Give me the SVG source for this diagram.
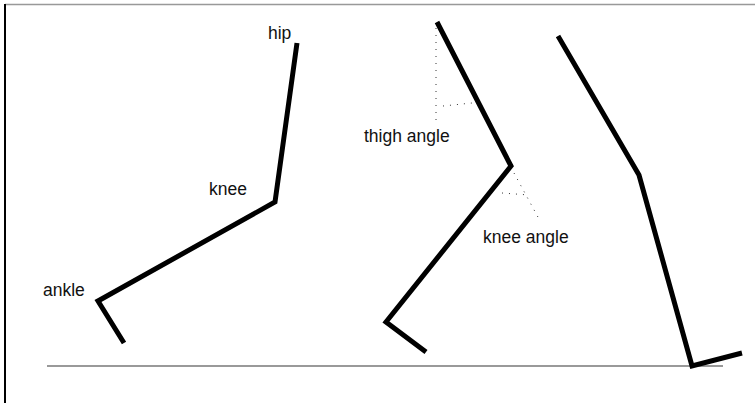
<svg xmlns="http://www.w3.org/2000/svg" width="755" height="403" viewBox="0 0 755 403">
<style>
.leg{fill:none;stroke:#000;stroke-width:5;stroke-linejoin:miter;stroke-linecap:butt}
.dot{fill:none;stroke:#333;stroke-width:1;stroke-dasharray:1 6}
.lbl{font-family:"Liberation Sans",Arial,sans-serif;font-size:17.5px;fill:#111}
</style>
<rect width="755" height="403" fill="#fff"/>
<g id="frame">
<line x1="5" y1="4.5" x2="755" y2="4.5" stroke="#999" stroke-width="1.5"/>
<line x1="5" y1="4" x2="5" y2="403" stroke="#000" stroke-width="2"/>
</g>
<g id="ground"><line x1="47" y1="366" x2="723" y2="366" stroke="#777" stroke-width="1.5"/></g>
<g id="connectors">
<polyline id="leg1" class="leg" points="297,43 275,202 98,301 124,343"/>
<polyline id="leg2" class="leg" points="437,22 511,166 386,322 426,352"/>
<polyline id="leg3" class="leg" points="558,36 639,175 692,366 742,353"/>
<line class="dot" x1="436" y1="28" x2="436" y2="122"/>
<line class="dot" x1="443" y1="106" x2="472" y2="103"/>
<line class="dot" x1="514" y1="173" x2="539" y2="219"/>
<line class="dot" x1="502" y1="193" x2="529" y2="195"/>
</g>
<g id="labels">
<text class="lbl" x="268" y="39">hip</text>
<text class="lbl" x="209" y="195">knee</text>
<text class="lbl" x="43" y="296">ankle</text>
<text class="lbl" x="364" y="142">thigh angle</text>
<text class="lbl" x="483" y="243">knee angle</text>
</g>
</svg>
